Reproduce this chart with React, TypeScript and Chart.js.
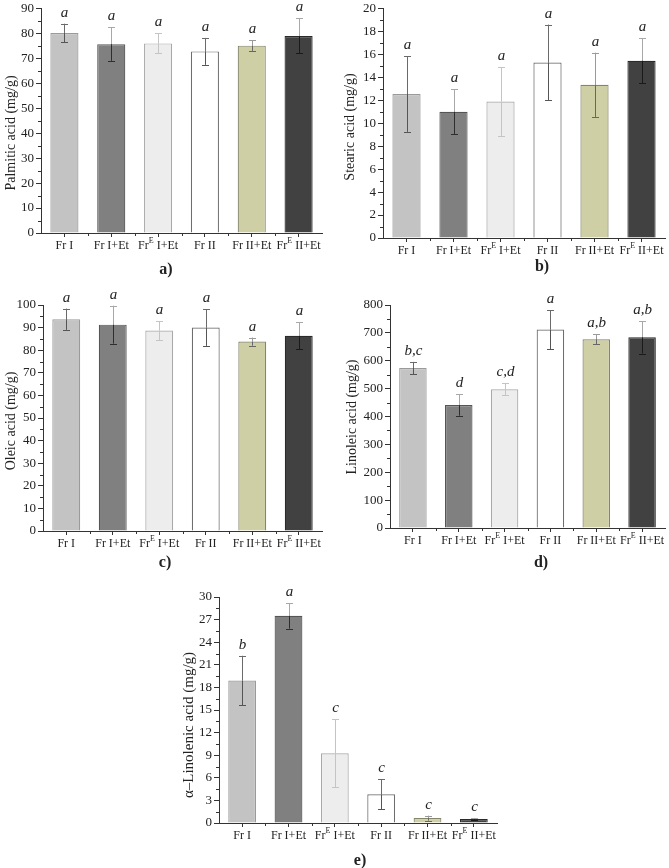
import React, { useEffect, useRef } from "react";
import { Chart, registerables } from "chart.js";

Chart.register(...registerables);

// ---------- DATA ----------
const categories = ["Fr I", "Fr I+Et", "Fr^E I+Et", "Fr II", "Fr II+Et", "Fr^E II+Et"];

const palmiticMean = [80.2, 75.7, 76.0, 72.8, 75.1, 79.0];
const palmiticSD = [3.7, 6.7, 4.0, 5.4, 2.1, 7.0];
const palmiticLetters = ["a", "a", "a", "a", "a", "a"];

const stearicMean = [12.55, 11.0, 11.9, 15.3, 13.35, 15.45];
const stearicSD = [3.3, 1.95, 3.0, 3.3, 2.8, 1.95];
const stearicLetters = ["a", "a", "a", "a", "a", "a"];

const oleicMean = [93.7, 91.3, 88.7, 90.0, 83.8, 86.4];
const oleicSD = [4.7, 8.4, 4.2, 8.1, 1.8, 5.9];
const oleicLetters = ["a", "a", "a", "a", "a", "a"];

const linoleicMean = [574, 441, 498, 712, 677, 684];
const linoleicSD = [22, 38, 21, 70, 18, 58];
const linoleicLetters = ["b,c", "d", "c,d", "a", "a,b", "a,b"];

const linolenicMean = [18.9, 27.5, 9.25, 3.8, 0.65, 0.52];
const linolenicSD = [3.3, 1.7, 4.5, 2.0, 0.33, 0.15];
const linolenicLetters = ["b", "a", "c", "c", "c", "c"];

// ---------- STYLE ----------
const barFill = ["#c3c3c3", "#808080", "#ededed", "#ffffff", "#cfcfa5", "#414141"];
const barBorder = ["#9a9a9a", "#555555", "#a9a9a9", "#6e6e6e", "#85856a", "#2a2a2a"];
const errUpper = ["#6a6a6a", "#a8a8a8", "#c4c4c4", "#6a6a6a", "#9a9a9a", "#a8a8a8"];
const errLower = ["#555555", "#2e2e2e", "#c4c4c4", "#555555", "#666666", "#1a1a1a"];
const AXIS = "#333333";
const TEXT = "#222222";
const SERIF = "'Liberation Serif', 'Times New Roman', serif";

type Panel = {
  key: string;
  title: string;
  means: number[];
  sds: number[];
  letters: string[];
  max: number;
  step: number;
  minor: number;
  canvas: { left: number; top: number; w: number; h: number };
  area: { left: number; top: number; right: number; bottom: number };
  titleX: number;
  titleY: number;
  titleSize: number;
  label: string;
  labelX: number;
  labelY: number;
};

function makeDecor(p: Panel) {
  return {
    id: "decor_" + p.key,
    afterDraw(chart: any) {
      const ctx: CanvasRenderingContext2D = chart.ctx;
      const xs = chart.scales.x;
      const ys = chart.scales.y;
      const ca = chart.chartArea;
      ctx.save();
      ctx.strokeStyle = AXIS;
      ctx.lineWidth = 1;
      // minor y ticks
      for (let v = p.minor; v < p.max - 1e-9; v += p.minor) {
        const r = v / p.step;
        if (Math.abs(r - Math.round(r)) < 1e-6) continue;
        const py = Math.round(ys.getPixelForValue(v)) + 0.5;
        ctx.beginPath();
        ctx.moveTo(ca.left - 3, py);
        ctx.lineTo(ca.left, py);
        ctx.stroke();
      }
      // minor x ticks at category boundaries
      for (let i = 1; i < categories.length; i++) {
        const px = Math.round(xs.getPixelForValue(i - 0.5)) + 0.5;
        ctx.beginPath();
        ctx.moveTo(px, ca.bottom);
        ctx.lineTo(px, ca.bottom + 3);
        ctx.stroke();
      }
      // error bars + letters
      p.means.forEach((m, i) => {
        const cx = Math.round(xs.getPixelForValue(i)) + 0.5;
        const yt = ys.getPixelForValue(m + p.sds[i]);
        const ym = ys.getPixelForValue(m);
        const yb = ys.getPixelForValue(Math.max(0, m - p.sds[i]));
        ctx.lineWidth = 1;
        ctx.strokeStyle = errUpper[i];
        ctx.beginPath();
        ctx.moveTo(cx, yt);
        ctx.lineTo(cx, ym);
        ctx.moveTo(cx - 3.5, Math.round(yt) + 0.5);
        ctx.lineTo(cx + 3.5, Math.round(yt) + 0.5);
        ctx.stroke();
        ctx.strokeStyle = errLower[i];
        ctx.beginPath();
        ctx.moveTo(cx, ym);
        ctx.lineTo(cx, yb);
        ctx.moveTo(cx - 3.5, Math.round(yb) + 0.5);
        ctx.lineTo(cx + 3.5, Math.round(yb) + 0.5);
        ctx.stroke();
        ctx.fillStyle = TEXT;
        ctx.font = "italic 15px " + SERIF;
        ctx.textAlign = "center";
        ctx.textBaseline = "alphabetic";
        ctx.fillText(p.letters[i], cx, yt - 7);
      });
      // x labels with superscript
      const mainFont = "12px " + SERIF;
      const supFont = "8px " + SERIF;
      ctx.fillStyle = TEXT;
      ctx.textBaseline = "middle";
      ctx.textAlign = "left";
      categories.forEach((c, i) => {
        const cx = xs.getPixelForValue(i);
        const ly = ca.bottom + 13;
        const parts = c.split("^E");
        if (parts.length === 2) {
          ctx.font = mainFont;
          const w1 = ctx.measureText(parts[0]).width;
          const w2 = ctx.measureText(parts[1]).width;
          ctx.font = supFont;
          const ws = ctx.measureText("E").width;
          let x0 = cx - (w1 + ws + w2) / 2;
          ctx.font = mainFont;
          ctx.fillText(parts[0], x0, ly);
          x0 += w1;
          ctx.font = supFont;
          ctx.fillText("E", x0, ly - 5);
          x0 += ws;
          ctx.font = mainFont;
          ctx.fillText(parts[1], x0, ly);
        } else {
          ctx.font = mainFont;
          const w = ctx.measureText(c).width;
          ctx.fillText(c, cx - w / 2, ly);
        }
      });
      // y title
      ctx.save();
      ctx.translate(p.titleX, p.titleY);
      ctx.rotate(-Math.PI / 2);
      ctx.font = p.titleSize + "px " + SERIF;
      ctx.textAlign = "center";
      ctx.textBaseline = "middle";
      ctx.fillText(p.title, 0, 0);
      ctx.restore();
      // panel label
      ctx.font = "bold 16px " + SERIF;
      ctx.textAlign = "center";
      ctx.textBaseline = "middle";
      ctx.fillText(p.label, p.labelX, p.labelY);
      ctx.restore();
    },
  };
}

function PanelChart({ p }: { p: Panel }) {
  const ref = useRef<HTMLCanvasElement | null>(null);
  useEffect(() => {
    if (!ref.current) return;
    const chart = new Chart(ref.current, {
      type: "bar",
      data: {
        labels: categories,
        datasets: [
          {
            data: p.means,
            backgroundColor: barFill,
            borderColor: barBorder,
            borderWidth: 1.2,
            barPercentage: 0.6,
            categoryPercentage: 1,
          },
        ],
      },
      options: {
        animation: false,
        responsive: false,
        events: [],
        layout: {
          padding: { left: 0, top: p.area.top, right: p.canvas.w - p.area.right, bottom: 0 },
        },
        plugins: { legend: { display: false }, tooltip: { enabled: false } },
        scales: {
          x: {
            type: "category",
            offset: true,
            grid: { display: true, drawOnChartArea: false, drawTicks: true, tickLength: 4, offset: false, color: AXIS },
            border: { display: true, color: AXIS, width: 1 },
            ticks: { display: false },
            afterFit: (s: any) => {
              s.height = p.canvas.h - p.area.bottom;
            },
          },
          y: {
            min: 0,
            max: p.max,
            ticks: {
              stepSize: p.step,
              color: TEXT,
              padding: 2,
              font: { family: SERIF, size: 13, lineHeight: 1 },
            },
            grid: { display: true, drawOnChartArea: false, drawTicks: true, tickLength: 5, color: AXIS },
            border: { display: true, color: AXIS, width: 1 },
            afterFit: (s: any) => {
              s.width = p.area.left;
            },
          },
        },
      },
      plugins: [makeDecor(p)],
    } as any);
    return () => chart.destroy();
  }, [p]);
  return (
    <canvas
      ref={ref}
      width={p.canvas.w}
      height={p.canvas.h}
      style={{ position: "absolute", left: p.canvas.left, top: p.canvas.top, width: p.canvas.w, height: p.canvas.h }}
    />
  );
}

const panels: Panel[] = [
  {
    key: "a", title: "Palmitic acid (mg/g)", means: palmiticMean, sds: palmiticSD, letters: palmiticLetters,
    max: 90, step: 10, minor: 5,
    canvas: { left: 0, top: 0, w: 335, h: 285 }, area: { left: 41, top: 6, right: 322, bottom: 233 },
    titleX: 11, titleY: 133, titleSize: 14, label: "a)", labelX: 166, labelY: 270,
  },
  {
    key: "b", title: "Stearic acid (mg/g)", means: stearicMean, sds: stearicSD, letters: stearicLetters,
    max: 20, step: 2, minor: 1,
    canvas: { left: 335, top: 0, w: 334, h: 285 }, area: { left: 48, top: 7, right: 330, bottom: 238 },
    titleX: 15, titleY: 127, titleSize: 14, label: "b)", labelX: 207, labelY: 267,
  },
  {
    key: "c", title: "Oleic acid (mg/g)", means: oleicMean, sds: oleicSD, letters: oleicLetters,
    max: 100, step: 10, minor: 5,
    canvas: { left: 0, top: 285, w: 335, h: 300 }, area: { left: 43, top: 20, right: 322, bottom: 246 },
    titleX: 11, titleY: 136, titleSize: 14, label: "c)", labelX: 165, labelY: 278,
  },
  {
    key: "d", title: "Linoleic acid (mg/g)", means: linoleicMean, sds: linoleicSD, letters: linoleicLetters,
    max: 800, step: 100, minor: 50,
    canvas: { left: 335, top: 285, w: 334, h: 300 }, area: { left: 55, top: 20, right: 330, bottom: 243 },
    titleX: 17, titleY: 132, titleSize: 14, label: "d)", labelX: 206, labelY: 278,
  },
  {
    key: "e", title: "α–Linolenic acid (mg/g)", means: linolenicMean, sds: linolenicSD, letters: linolenicLetters,
    max: 30, step: 3, minor: 1.5,
    canvas: { left: 160, top: 585, w: 340, h: 283 }, area: { left: 59, top: 12, right: 337, bottom: 238 },
    titleX: 29, titleY: 140, titleSize: 15, label: "e)", labelX: 200, labelY: 276,
  },
];

export default function App() {
  return (
    <div style={{ position: "absolute", left: 0, top: 0, width: 669, height: 868, background: "#ffffff", overflow: "hidden" }}>
      {panels.map((p) => (
        <PanelChart key={p.key} p={p} />
      ))}
    </div>
  );
}
